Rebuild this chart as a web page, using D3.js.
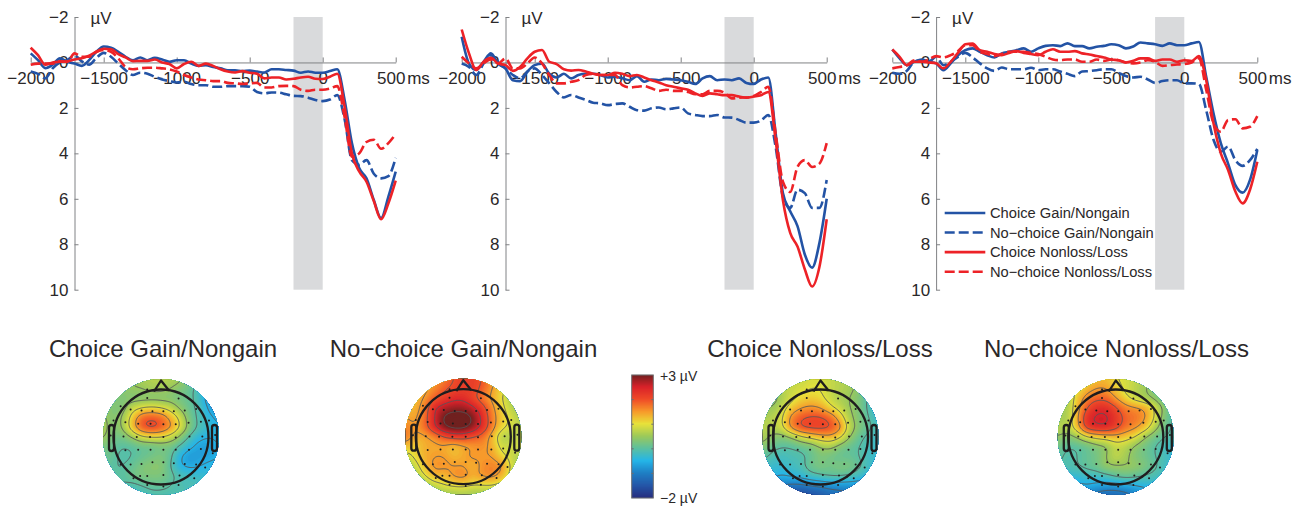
<!DOCTYPE html>
<html lang="en-US">

<head>
    <title>ERP waveforms and scalp maps</title>
    <meta charset="utf-8">
    <script src="https://cdn.jsdelivr.net/npm/d3@7"></script>
    <style>
        body { margin: 0; background: #fff; }
        svg { display: block; }
        text { font-family: "Liberation Sans", Arial, sans-serif; fill: #2b2829; }
    </style>
</head>

<body>
    <svg></svg>
</body>

<script>

    // sample times in ms, every series below has one value per time
    const times = d3.range(51).map(i => -2000 + i * 50);

    const seriesNames = ['Choice Gain/Nongain', 'No\u2212choice Gain/Nongain', 'Choice Nonloss/Loss', 'No\u2212choice Nonloss/Loss'];
    const xTicks = [-2000, -1500, -1000, -500, 0, 500];
    const yTicks = [-2, 0, 2, 4, 6, 8, 10];

    // left panel
    const p1GainChoice = [-.4,-.1,.25,.1,-.18,-.03,.05,.15,-.1,-.47,-.7,-.65,-.47,-.25,-.1,-.22,-.1,-.2,-.13,-.03,-.1,-.1,.05,.15,.12,.2,.26,.35,.35,.38,.36,.4,.44,.3,.3,.33,.36,.45,.4,.45,.45,.38,.3,1.65,3.55,4.65,5.1,6.05,6.85,5.9,4.8];
    const p1GainNoChoice = [.4,.5,.7,.26,0,-.1,-.3,-.05,.1,-.2,-.42,-.25,.05,.34,.55,.45,.5,.63,.75,.82,.88,.85,.95,1,1,1.07,1.07,1.04,1.04,1.04,1.07,1.3,1.36,1.32,1.33,1.4,1.47,1.48,1.55,1.65,1.7,1.63,1.44,2.5,4.3,4.5,4.3,4.9,5.1,5,4.2];
    const p1LossChoice = [-.65,-.32,.1,0,-.03,-.05,-.13,-.18,-.3,-.47,-.6,-.58,-.37,-.22,-.06,-.07,-.07,-.13,0,.07,.26,.07,-.03,.15,.05,.15,.3,.4,.44,.38,.45,.5,.7,.66,.66,.75,.72,.66,.63,.72,.73,.63,.5,1.95,4,4.8,5.25,6.1,6.9,6.2,5.2];
    const p1LossNoChoice = [.1,.05,.05,.05,-.05,-.03,-.4,-.25,-.25,-.47,-.55,-.47,-.18,.2,.3,.26,.23,.23,.26,.3,.4,.55,.66,.75,.78,.82,.82,.9,.92,.95,.92,.9,1.1,1.1,1.04,1.03,1.04,1.2,1.25,1.2,1.2,1.15,1.04,2.4,4.15,4,3.5,3.4,3.8,3.55,3.15];

    // middle panel
    const p2GainChoice = [-1.13,.05,.33,-.03,-.4,.05,.26,.78,.82,.4,.12,.05,.5,.66,.5,.7,.55,.5,.5,.55,.66,.63,.7,.78,.6,.85,.75,.78,.73,.75,.78,.85,.95,.7,.6,.78,.75,.78,.7,.9,.95,.75,.66,3.1,5.75,6.55,7.2,8.45,9.03,7.95,6];
    const p2GainNoChoice = [.05,.2,.55,.05,-.32,.05,.26,.55,.7,.4,.26,.55,.92,1.3,1.54,1.43,1.54,1.65,1.77,1.8,1.88,1.83,1.8,1.95,2.1,2.12,2.02,1.98,2.06,2.02,1.98,2.24,2.31,2.36,2.36,2.31,2.42,2.43,2.53,2.65,2.65,2.56,2.31,3.7,5.9,6.4,5.6,5.75,6.4,6.4,5.17];
    const p2LossChoice = [-1.45,-.4,.33,-.03,-.2,.05,.12,.37,.2,-.18,-.47,-.55,-.03,.07,.3,.36,.33,.4,.5,.55,.55,.45,.5,.6,.55,.66,.78,.88,1,1.07,1.14,1.2,1.36,1.47,1.36,1.4,1.44,1.44,1.5,1.55,1.5,1.44,1.3,3.4,6.05,7.5,8.1,9.1,9.86,9,6.9];
    const p2LossNoChoice = [-.25,.04,.26,.04,-.13,.04,-.18,.26,.26,.04,-.22,.04,.55,.92,.92,.85,.78,.55,.5,.55,.55,.55,1,1.1,1.07,1.04,1.14,1.25,1.2,1.25,1.25,1.3,1.4,1.4,1.25,1.25,1.33,1.58,1.55,1.54,1.48,1.3,1.07,3.1,5.25,5.7,4.6,4.3,4.6,4.45,3.55];

    // right panel
    const p3GainChoice = [-.57,-.18,.12,-.03,-.13,-.03,.04,.34,.04,-.32,-.54,-.62,-.47,-.32,-.22,-.4,-.47,-.54,-.62,-.47,-.62,-.73,-.76,-.72,-.84,-.72,-.72,-.62,-.69,-.73,-.8,-.76,-.62,-.7,-.88,-.84,-.8,-.73,-.84,-.76,-.76,-.84,-.9,.63,2.24,3.55,4.45,5.4,5.73,5.17,3.85];
    const p3GainNoChoice = [.45,.5,.37,-.03,-.1,-.03,-.25,.12,-.03,-.25,-.42,-.22,.04,.26,.37,.22,.3,.3,.3,.23,.34,.3,.3,.4,.5,.6,.4,.38,.34,.3,.3,.45,.6,.66,.63,.75,.9,.82,.78,.78,.92,.92,.95,2.1,3.4,3.93,3.7,4.3,4.55,4.3,3.8];
    const p3LossChoice = [-.57,-.25,.12,-.03,-.03,0,.04,.26,-.03,-.42,-.8,-.83,-.54,-.47,-.37,-.32,-.42,-.5,-.42,-.37,-.32,-.47,-.58,-.47,-.47,-.5,-.4,-.35,-.28,-.22,-.13,-.1,0,-.07,-.18,-.18,-.07,-.13,-.13,-.03,-.1,-.06,-.28,.78,2.68,4,4.73,5.68,6.2,5.6,4.37];
    const p3LossNoChoice = [.26,.2,.12,-.1,-.03,-.13,-.28,-.22,-.32,-.5,-.76,-.76,-.47,-.37,-.28,-.37,-.47,-.47,-.47,-.42,-.37,-.25,-.13,-.1,-.13,-.13,-.03,-.03,-.13,-.07,-.13,-.1,0,.04,0,-.1,-.03,.15,.12,.09,.07,0,-.18,1.2,2.68,3.05,2.53,2.5,2.9,2.83,2.36];

    // scalp map values in uV, rows front to back, columns left to right
    const mapGainChoice = [
        [.3,.3,.4,.5,.6,.7,.7,.7,.6,.3,0,-.5,-.8],
        [.3,.3,.4,.5,.5,.6,.6,.5,.3,.1,-.2,-.7,-1],
        [.4,.3,.3,.3,.3,.3,.3,.3,.2,.1,-.2,-.8,-1.1],
        [.5,.3,.3,.8,1,1.1,1,.8,.4,.1,-.1,-.6,-.9],
        [.6,.3,.5,1.2,1.9,2,1.9,1.4,.9,.2,-.1,-.4,-.6],
        [.7,.3,.5,1.3,2,2.2,2,1.6,1,.3,-.1,-.3,-.5],
        [.6,.2,.2,.5,.9,1,1,.8,.4,-.1,-.4,-.5,-.4],
        [.3,.1,0,0,.1,.1,.2,.2,-.1,-.4,-.7,-.7,-.5],
        [.2,.1,-.1,0,.1,.2,.3,.1,-.5,-.8,-.7,-.6,-.5],
        [.1,0,0,.1,.3,.4,.4,0,-.5,-.6,-.5,-.4,-.4],
        [0,0,0,.2,.3,.3,.3,.1,-.1,-.2,-.3,-.3,-.3],
        [0,0,0,-.1,0,.1,.1,0,-.1,-.1,-.1,-.2,-.2],
        [0,0,-.1,-.2,-.2,-.1,-.1,-.1,-.1,-.1,-.1,-.1,-.1]
    ];
    const mapGainNoChoice = [
        [1.2,1.3,1.3,1.5,1.7,2,2.2,2.2,2,1.6,1.2,1,.8],
        [1.2,1.3,1.4,1.6,1.9,2.1,2.2,2.2,1.9,1.5,1.1,.8,.6],
        [1.3,1.3,1.5,1.9,2.2,2.4,2.4,2.1,1.7,1.4,1,.6,.5],
        [1.4,1.3,1.7,2.5,2.7,2.8,2.8,2.6,2.2,1.6,1.1,.7,.5],
        [1.5,1.4,1.8,2.5,3.1,3.3,3.3,3,2.4,1.7,1.2,.9,.6],
        [1.7,1.5,1.8,2.5,3,3.2,3.2,2.9,2.4,1.7,1.1,.9,.7],
        [1.8,1.4,1.4,1.6,2,2.2,2.2,2,1.8,1.3,.6,.7,.8],
        [1.3,1.1,1.4,1.4,1.4,1.2,1.4,1.5,1.6,1.4,.8,.9,.9],
        [.8,1.1,1.4,1.5,1.5,1.3,1.4,1.6,1.5,1.5,1.1,.8,.6],
        [.5,.8,1.3,1.6,1.6,1.5,1.5,1.3,1.6,1.7,1.6,.9,.5],
        [.4,.6,1,1.4,1.3,1.6,1.7,1.4,1.6,1.7,1.4,.8,.5],
        [.3,.4,.5,.8,1,1.1,1.1,1,1,1,.8,.5,.4],
        [.3,.3,.3,.4,.5,.5,.6,.5,.5,.5,.4,.4,.3]
    ];
    const mapLossChoice = [
        [.6,.7,.8,.8,.8,.9,.9,.8,.7,.6,.4,.2,0],
        [.6,.5,.7,.8,.9,1,1,.8,.7,.6,.4,.1,-.2],
        [.4,.3,.6,.9,1.1,1.2,1.1,.8,.6,.5,.3,-.1,-.4],
        [.5,.5,.8,1.2,1.5,1.6,1.5,1.1,.8,.5,.3,-.1,-.4],
        [.6,.7,.9,1.7,2,2.1,2.1,1.9,1.3,.6,.3,0,-.3],
        [.7,.7,.9,1.7,2.1,2.2,2.2,2.1,1.7,.8,.3,.1,-.2],
        [.7,.4,.3,.5,.9,1.1,1.3,1.4,1.1,.5,.1,-.1,-.3],
        [.4,.1,0,0,.1,.2,.5,.6,.3,.1,0,-.2,-.3],
        [.1,-.1,-.2,-.1,-.1,.1,.3,.2,.1,.1,0,-.2,-.3],
        [-.1,-.3,-.3,-.2,-.1,.2,.3,.2,.3,.3,.1,-.2,-.4],
        [-.3,-.4,-.5,-.4,-.3,-.1,0,.1,.1,0,-.2,-.4,-.5],
        [-.7,-.9,-1,-1.1,-1.1,-1,-.9,-.8,-.8,-.8,-.8,-.7,-.6],
        [-1.2,-1.3,-1.6,-1.7,-1.7,-1.6,-1.5,-1.3,-1.2,-1.1,-1,-.9,-.8]
    ];
    const mapLossNoChoice = [
        [.6,.7,.9,1.1,1.3,1.3,1,.9,.8,.7,.5,.2,0],
        [.6,.7,1,1.3,1.5,1.5,1.2,.9,.7,.5,.3,.1,-.1],
        [.5,.6,1.2,1.7,1.9,1.9,1.5,1.1,.8,.6,.4,.1,-.1],
        [.5,.6,1.3,2,2.4,2.4,2.1,1.7,1.6,1.5,1,.4,0],
        [.6,.6,1.4,2.4,2.6,2.6,2.3,1.9,1.8,1.6,1,.3,-.1],
        [.7,.7,1.3,2.3,2.5,2.5,2.2,1.8,1.6,1.3,.7,.2,-.1],
        [.5,.3,.5,.9,1.1,1.2,1.3,1.2,1,.5,.2,0,-.1],
        [.2,0,0,.1,.3,.4,.8,.7,.4,.2,0,-.2,-.3],
        [.1,-.1,0,.1,.2,.5,.8,.6,.3,.2,0,-.1,-.4],
        [0,-.1,0,.1,.2,.5,.5,.5,.5,.3,.1,-.2,-.3],
        [-.2,-.3,-.3,-.2,-.2,-.1,.1,.2,.1,0,-.1,-.2,-.3],
        [-.4,-.6,-.6,-.5,-.6,-.7,-.7,-.6,-.5,-.4,-.4,-.3,-.3],
        [-.7,-.8,-.8,-1,-1.2,-1.3,-1.3,-1.2,-1,-.8,-.6,-.5,-.4]
    ];

    // electrode sites on the scalp, in head radii from the vertex
    const electrodes = [
        [-.29,-1],[-.29,-.82],[.37,-.81],[-.85,-.65],[-.64,-.58],[-.41,-.56],[-.18,-.54],[.05,-.54],[.27,-.54],[.5,-.56],[.74,-.59],
        [-1,-.35],[-.75,-.31],[-.48,-.28],[-.22,-.28],[.05,-.27],[.31,-.27],[.58,-.3],[.84,-.32],[1.01,-.35],
        [-1.06,-.03],[-.79,-.01],[-.51,0],[-.23,0],[.05,0],[.31,.01],[.6,-.01],[.87,-.01],[1.14,-.04],
        [-1,.27],[-.75,.28],[-.48,.27],[-.22,.27],[.05,.27],[.31,.27],[.59,.27],[.84,.25],[1.09,.34],
        [-.85,.58],[-.64,.58],[-.41,.57],[-.18,.53],[.05,.53],[.27,.55],[.5,.57],[.74,.58],[.93,.64],
        [-.58,.87],[-.44,.82],[-.29,.82],[.05,.8],[.39,.81],[.56,.83],[.7,.87],[-.29,1.01],[.05,1.04],[.37,1.01]
    ];

    const colorStops = [-2, -1.5, -1, -.5, 0, .5, 1, 1.5, 2, 2.5, 3];
    const colorRange = ['#262e80', '#2557a8', '#1f7fc4', '#25b5e8', '#5cc0a0', '#9cc95a', '#e8e23a', '#f79a2b', '#ef4b28', '#d9222a', '#70201f'];

    let opt = {
        width: 1298,
        height: 506,
        blue: '#2353a5',
        red: '#ed2227',
        axis: '#808285',
        band: '#d9dadc',
        dash: '10,4',
        line_width: 2.6,
        panel_top: 17,
        panel_bottom: 289.7,
        tick_font: '17px',
        map_radius: 58,
        head_radius: 47.5,
        upsample: 10
    };

    const panels = [
        { left: 30.7, right: 395.7, axisAt: -1700, legend: false, series: [p1GainChoice, p1GainNoChoice, p1LossChoice, p1LossNoChoice] },
        { left: 461.7, right: 826.7, axisAt: -1700, legend: false, series: [p2GainChoice, p2GainNoChoice, p2LossChoice, p2LossNoChoice] },
        { left: 892.3, right: 1257.3, axisAt: -1700, legend: true, series: [p3GainChoice, p3GainNoChoice, p3LossChoice, p3LossNoChoice] }
    ];

    const maps = [
        { cx: 161, cy: 437, titleX: 163, values: mapGainChoice },
        { cx: 463.3, cy: 436.7, titleX: 463.5, values: mapGainNoChoice },
        { cx: 820.5, cy: 437, titleX: 820, values: mapLossChoice },
        { cx: 1115.8, cy: 437, titleX: 1116.5, values: mapLossNoChoice }
    ];

    let svg = d3.select('svg')
        .attr('width', opt.width)
        .attr('height', opt.height);

    const color = d3.scaleLinear().domain(colorStops).range(colorRange).clamp(true);
    const styleOf = i => ({ stroke: i < 2 ? opt.blue : opt.red, dash: i % 2 ? opt.dash : null });

    const fmt = d => String(d).replace('-', '\u2212');

    panels.forEach(drawPanel);
    maps.forEach(drawMap);
    drawColorbar();

    function drawPanel(p) {
        let xScale = d3.scaleLinear().domain([-2000, 500]).range([p.left, p.right]);
        let yScale = d3.scaleLinear().domain([-2, 10]).range([opt.panel_top, opt.panel_bottom]);
        let g = svg.append('g');

        // shaded window before feedback
        g.append('rect')
            .attr('x', xScale(-200))
            .attr('y', yScale(-2))
            .attr('width', xScale(0) - xScale(-200))
            .attr('height', yScale(10) - yScale(-2))
            .attr('fill', opt.band);

        let x_axis = g.append('g')
            .attr('transform', `translate(0,${yScale(0)})`)
            .call(d3.axisBottom(xScale).tickValues(xTicks).tickFormat(fmt).tickSizeInner(-5).tickSizeOuter(0).tickPadding(9.5));

        let y_axis = g.append('g')
            .attr('transform', `translate(${xScale(p.axisAt)},0)`)
            .call(d3.axisLeft(yScale).tickValues(yTicks).tickFormat(fmt).tickSizeInner(-4).tickSizeOuter(0).tickPadding(6));

        [x_axis, y_axis].forEach(a => {
            a.selectAll('path, line').attr('stroke', opt.axis);
            a.selectAll('text').style('font-size', opt.tick_font).attr('fill', '#2b2829');
            a.attr('font-family', null).attr('font-size', null);
        });

        // the 500 label sits left of its tick to leave room for the unit
        x_axis.selectAll('.tick text')
            .filter(d => d === 500)
            .attr('dx', -5);

        g.append('text')
            .attr('x', xScale(p.axisAt) + 16)
            .attr('y', 24)
            .style('font-size', opt.tick_font)
            .text('\u00b5V');

        g.append('text')
            .attr('x', xScale(500) + 11.5)
            .attr('y', 84)
            .style('font-size', opt.tick_font)
            .text('ms');

        let line = d3.line()
            .x((d, i) => xScale(times[i]))
            .y(d => yScale(d))
            .curve(d3.curveMonotoneX);

        g.append('g')
            .selectAll('path')
            .data(p.series)
            .enter()
            .append('path')
            .attr('d', line)
            .attr('fill', 'none')
            .attr('stroke', (d, i) => styleOf(i).stroke)
            .attr('stroke-dasharray', (d, i) => styleOf(i).dash)
            .attr('stroke-width', opt.line_width);

        if (p.legend) drawLegend(g);
    }

    function drawLegend(g) {
        let row = d3.scalePoint().domain(seriesNames).range([213, 271.7]);
        let items = g.append('g')
            .selectAll('g')
            .data(seriesNames)
            .enter()
            .append('g')
            .attr('transform', d => `translate(0,${row(d)})`);

        items.append('line')
            .attr('x1', 944.7)
            .attr('x2', 985.3)
            .attr('stroke', (d, i) => styleOf(i).stroke)
            .attr('stroke-dasharray', (d, i) => styleOf(i).dash)
            .attr('stroke-width', opt.line_width);

        items.append('text')
            .attr('x', 990)
            .attr('y', 5)
            .style('font-size', '14.7px')
            .text(d => d);
    }

    // thicken the value grid (bilinear, then a light blur) so the contours come out round
    function upsample(values) {
        let k = opt.upsample;
        let n = values.length;
        let m = (n - 1) * k + 1;
        let out = new Float64Array(m * m);
        for (let i = 0; i < m; i++) {
            let row0 = Math.min(Math.floor(i / k), n - 2);
            let rowT = i / k - row0;
            let left = d3.interpolateNumberArray(values[row0], values[row0 + 1])(rowT);
            for (let j = 0; j < m; j++) {
                let col0 = Math.min(Math.floor(j / k), n - 2);
                out[i * m + j] = d3.interpolateNumber(left[col0], left[col0 + 1])(j / k - col0);
            }
        }
        d3.blur2({ data: out, width: m, height: m }, 3);
        return { data: Array.from(out), size: m };
    }

    function drawMap(map, idx) {
        let r = opt.map_radius;
        let g = svg.append('g').attr('transform', `translate(${map.cx},${map.cy})`);

        svg.append('text')
            .attr('x', map.titleX)
            .attr('y', 357)
            .attr('text-anchor', 'middle')
            .style('font-size', '24px')
            .text(seriesNames[idx]);

        let clipId = 'scalp-' + idx;
        g.append('clipPath').attr('id', clipId)
            .append('circle').attr('r', r);

        let grid = upsample(map.values);
        let unit = 2 * r / (grid.size - 1);
        let path = d3.geoPath(d3.geoIdentity().scale(unit).translate([-r - unit / 2, -r - unit / 2]));

        let body = g.append('g').attr('clip-path', `url(#${clipId})`);

        let bands = d3.contours().size([grid.size, grid.size]).smooth(true)
            .thresholds(d3.range(-3, 4, 0.05))(grid.data);

        body.append('circle').attr('r', r).attr('fill', color(d3.min(grid.data)));
        body.append('g')
            .selectAll('path')
            .data(bands)
            .enter()
            .append('path')
            .attr('d', path)
            .attr('fill', d => color(d.value));

        let lines = d3.contours().size([grid.size, grid.size]).smooth(true)
            .thresholds(d3.range(-2, 3.5, 0.5))(grid.data);

        body.append('g')
            .selectAll('path')
            .data(lines)
            .enter()
            .append('path')
            .attr('d', path)
            .attr('fill', 'none')
            .attr('stroke', '#55585a')
            .attr('stroke-width', 0.9);

        // head outline, nose and ears
        let head = opt.head_radius;
        let outline = g.append('g').attr('fill', 'none').attr('stroke', '#1f1d1e').attr('stroke-width', 2.3);
        outline.append('circle').attr('r', head);
        outline.append('path')
            .attr('d', `M-7,${-head + 2}L0,${-head - 9}L8,${-head + 1}`)
            .attr('stroke-linejoin', 'round');
        [-52, 51].forEach(x => {
            outline.append('rect')
                .attr('x', x)
                .attr('y', -12)
                .attr('width', 5)
                .attr('height', 26)
                .attr('rx', 2.5);
        });

        let sx = d3.scaleLinear().domain([-1, 1]).range([-head, head]);
        g.append('g')
            .selectAll('circle')
            .data(electrodes)
            .enter()
            .append('circle')
            .attr('cx', d => sx(d[0]))
            .attr('cy', d => sx(d[1]))
            .attr('r', 1)
            .attr('fill', '#1f1d1e');
    }

    function drawColorbar() {
        let y = d3.scaleLinear().domain([-2, 3]).range([498, 375]);
        let g = svg.append('g');
        let steps = d3.range(-2, 3, 5 / 123);

        g.selectAll('rect')
            .data(steps)
            .enter()
            .append('rect')
            .attr('x', 631.7)
            .attr('y', d => y(d) - 1.1)
            .attr('width', 21.6)
            .attr('height', 1.2)
            .attr('fill', d => color(d));

        g.append('rect')
            .attr('x', 631.7)
            .attr('y', y(3))
            .attr('width', 21.6)
            .attr('height', y(-2) - y(3))
            .attr('fill', 'none')
            .attr('stroke', '#6d6e70');

        let ticks = [-1, 0, 1, 2];
        [[631.7, 633.7], [651.3, 653.3]].forEach(ends => {
            g.append('g').selectAll('line')
                .data(ticks)
                .enter()
                .append('line')
                .attr('x1', ends[0])
                .attr('x2', ends[1])
                .attr('y1', d => y(d))
                .attr('y2', d => y(d))
                .attr('stroke', '#6d6e70');
        });

        g.append('text').attr('x', 660).attr('y', 381).style('font-size', '14px').text('+3 \u00b5V');
        g.append('text').attr('x', 660).attr('y', 503).style('font-size', '14px').text('\u22122 \u00b5V');
    }

</script>

</html>
